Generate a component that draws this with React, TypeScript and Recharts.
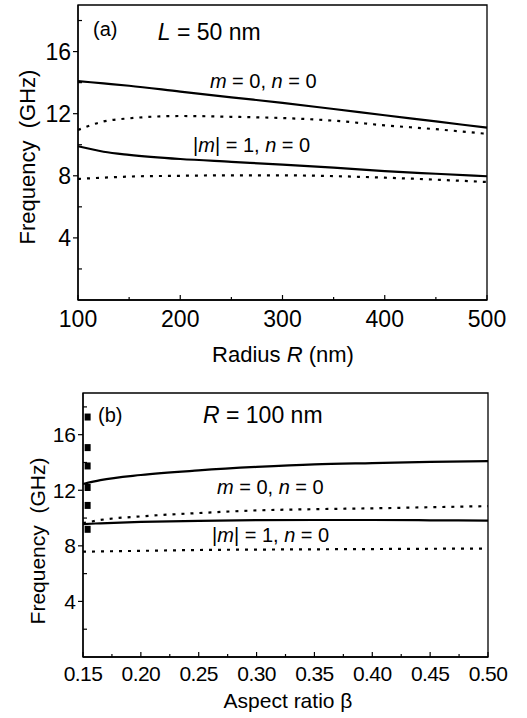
import React from 'react';
import {
  LineChart,
  ComposedChart,
  Line,
  Scatter,
  XAxis,
  YAxis,
  ReferenceArea,
  ReferenceDot,
  Label,
} from 'recharts';

// panel (a): L = 50 nm, frequency vs radius R (nm)
const radiusA = [100, 125, 150, 200, 250, 300, 350, 400, 450, 500];
const m0SolidA = [14.1, 13.95, 13.8, 13.42, 13.05, 12.7, 12.3, 11.9, 11.5, 11.1];
const m0DotA = [10.95, 11.5, 11.7, 11.85, 11.8, 11.72, 11.55, 11.25, 11.0, 10.7];
const m1SolidA = [9.9, 9.55, 9.35, 9.08, 8.9, 8.72, 8.52, 8.3, 8.13, 7.97];
const m1DotA = [7.8, 7.88, 7.95, 8.0, 8.03, 8.03, 7.98, 7.88, 7.75, 7.6];

// panel (b): R = 100 nm, frequency vs aspect ratio
const betaB = [0.15, 0.165, 0.2, 0.25, 0.3, 0.35, 0.4, 0.45, 0.5];
const m0SolidB = [12.45, 12.73, 13.1, 13.43, 13.68, 13.87, 13.96, 14.04, 14.09];
const m0DotB = [9.63, 9.86, 10.12, 10.36, 10.55, 10.64, 10.7, 10.78, 10.86];
const m1SolidB = [9.57, 9.62, 9.72, 9.8, 9.85, 9.86, 9.86, 9.84, 9.82];
const m1DotB = [7.58, 7.6, 7.64, 7.7, 7.73, 7.75, 7.77, 7.79, 7.8];
const squareBeta = [0.154, 0.154, 0.154, 0.154, 0.154, 0.154];
const squareFreq = [17.27, 15.07, 13.75, 12.2, 10.91, 9.19];

const freqTicks = [0, 2, 4, 6, 8, 10, 12, 14, 16, 18];
const radiusTicks = [100, 150, 200, 250, 300, 350, 400, 450, 500];
const betaTicks = [0.15, 0.175, 0.2, 0.225, 0.25, 0.275, 0.3, 0.325, 0.35, 0.375, 0.4, 0.425, 0.45, 0.475, 0.5];

const rowsA = radiusA.map((r, i) => ({ x: r, s0: m0SolidA[i], d0: m0DotA[i], s1: m1SolidA[i], d1: m1DotA[i] }));
const rowsB = betaB.map((b, i) => ({ x: b, s0: m0SolidB[i], d0: m0DotB[i], s1: m1SolidB[i], d1: m1DotB[i] }));
const squares = squareBeta.map((b, i) => ({ x: b, y: squareFreq[i] }));

const FONT = '"Liberation Sans", Arial, Helvetica, sans-serif';

type Part = [string, boolean];

const note = (parts: Part[], size: number) => (p: any) => (
  <text x={p.cx} y={p.cy} dy="0.36em" fontSize={size} fontFamily={FONT} fill="#000" style={{ whiteSpace: 'pre' }}>
    {parts.map(([t, it], i) => (
      <tspan key={i} fontStyle={it ? 'italic' : 'normal'}>
        {t}
      </tspan>
    ))}
  </text>
);

const m0Label: Part[] = [['m', true], [' = 0, ', false], ['n', true], [' = 0', false]];
const m1Label: Part[] = [['|', false], ['m', true], ['| = 1, ', false], ['n', true], [' = 0', false]];

const bottomTick = (isMajor: (v: number) => boolean, fmt: (v: number) => string, size: number, gap: number, spacing = 0) =>
  (p: any) => {
    const v = p.payload.value;
    const major = isMajor(v);
    return (
      <g>
        <line x1={p.x} x2={p.x} y1={p.y} y2={p.y - (major ? 5 : 3)} stroke="#000" strokeWidth={1.2} />
        {major && (
          <text x={p.x} y={p.y + gap} dy="0.36em" textAnchor="middle" fontSize={size} fontFamily={FONT} letterSpacing={spacing} fill="#000">
            {fmt(v)}
          </text>
        )}
      </g>
    );
  };

// major ticks point out of the frame, minor ones into it
const leftTick = (size: number) => (p: any) => {
  const v = p.payload.value;
  const major = v % 4 === 0;
  return (
    <g>
      {v > 0 && (
        <line x1={major ? p.x - 5 : p.x} x2={major ? p.x : p.x + 4} y1={p.y} y2={p.y} stroke="#000" strokeWidth={1.2} />
      )}
      {major && v > 0 && (
        <text x={p.x - 7} y={p.y} dy="0.36em" textAnchor="end" fontSize={size} fontFamily={FONT} fill="#000">
          {v}
        </text>
      )}
    </g>
  );
};

const yTitle = (cx: number, cy: number, size: number) => () => (
  <text x={cx} y={cy} textAnchor="middle" dy="0.36em" fontSize={size} fontFamily={FONT} fill="#000" transform={`rotate(-90 ${cx} ${cy})`} style={{ whiteSpace: 'pre' }}>
    Frequency  (GHz)
  </text>
);

export default function App() {
  return (
    <div style={{ position: 'absolute', left: 0, top: 0, width: 527, height: 718, background: '#fff' }}>
      <LineChart width={527} height={368} data={rowsA} margin={{ top: 5, right: 40, bottom: 0, left: 0 }}>
        <XAxis
          dataKey="x"
          type="number"
          domain={[100, 500]}
          ticks={radiusTicks}
          interval={0}
          height={68}
          tickSize={0}
          tickMargin={0}
          axisLine={{ stroke: '#000', strokeWidth: 1.3 }}
          tickLine={false}
          tick={bottomTick((v) => v % 100 === 0, (v) => String(v), 23, 18.5)}
        >
          <Label
            content={() => (
              <text x={283} y={354} dy="0.36em" textAnchor="middle" fontSize={22} fontFamily={FONT} fill="#000" style={{ whiteSpace: 'pre' }}>
                <tspan>Radius </tspan>
                <tspan fontStyle="italic">R</tspan>
                <tspan> (nm)</tspan>
              </text>
            )}
          />
        </XAxis>
        <YAxis
          type="number"
          domain={[0, 19]}
          ticks={freqTicks}
          interval={0}
          width={78}
          tickSize={0}
          tickMargin={0}
          allowDataOverflow
          axisLine={{ stroke: '#000', strokeWidth: 1.3 }}
          tickLine={false}
          tick={leftTick(23)}
        >
          <Label content={yTitle(27, 157, 22)} />
        </YAxis>
        <ReferenceArea x1={100} x2={500} y1={0} y2={19} fill="none" stroke="#000" strokeWidth={1.3} />
        <Line dataKey="s0" type="monotone" stroke="#000" strokeWidth={2.2} dot={false} isAnimationActive={false} />
        <Line dataKey="d0" type="monotone" stroke="#000" strokeWidth={2.2} strokeDasharray="3 6" dot={false} isAnimationActive={false} />
        <Line dataKey="s1" type="monotone" stroke="#000" strokeWidth={2.2} dot={false} isAnimationActive={false} />
        <Line dataKey="d1" type="monotone" stroke="#000" strokeWidth={2.2} strokeDasharray="3 6" dot={false} isAnimationActive={false} />
        <ReferenceDot x={114.7} y={17.45} shape={note([['(a)', false]], 20)} />
        <ReferenceDot x={178} y={17.3} shape={note([['L', true], [' = 50 nm', false]], 23)} />
        <ReferenceDot x={229} y={14.1} shape={note(m0Label, 20)} />
        <ReferenceDot x={212.5} y={10.0} shape={note(m1Label, 20)} />
      </LineChart>

      <ComposedChart width={527} height={350} data={rowsB} margin={{ top: 25, right: 39, bottom: 0, left: 0 }}>
        <XAxis
          dataKey="x"
          type="number"
          domain={[0.15, 0.5]}
          ticks={betaTicks}
          interval={0}
          height={61}
          tickSize={0}
          tickMargin={0}
          axisLine={{ stroke: '#000', strokeWidth: 1.3 }}
          tickLine={false}
          tick={bottomTick((v) => Math.round(v * 1000) % 50 === 0, (v) => v.toFixed(2), 21, 16, -0.6)}
        >
          <Label
            content={() => (
              <text x={288} y={700 - 368} dy="0.36em" textAnchor="middle" fontSize={21} fontFamily={FONT} fill="#000">
                Aspect ratio β
              </text>
            )}
          />
        </XAxis>
        <YAxis
          type="number"
          domain={[0, 19]}
          ticks={freqTicks}
          interval={0}
          width={83}
          tickSize={0}
          tickMargin={0}
          allowDataOverflow
          axisLine={{ stroke: '#000', strokeWidth: 1.3 }}
          tickLine={false}
          tick={leftTick(21)}
        >
          <Label content={yTitle(37, 541 - 368, 21)} />
        </YAxis>
        <ReferenceArea x1={0.15} x2={0.5} y1={0} y2={19} fill="none" stroke="#000" strokeWidth={1.3} />
        <Line dataKey="s0" type="monotone" stroke="#000" strokeWidth={2.2} dot={false} isAnimationActive={false} />
        <Line dataKey="d0" type="monotone" stroke="#000" strokeWidth={2.2} strokeDasharray="3 6" dot={false} isAnimationActive={false} />
        <Line dataKey="s1" type="monotone" stroke="#000" strokeWidth={2.2} dot={false} isAnimationActive={false} />
        <Line dataKey="d1" type="monotone" stroke="#000" strokeWidth={2.2} strokeDasharray="3 6" dot={false} isAnimationActive={false} />
        <Scatter
          data={squares}
          dataKey="y"
          isAnimationActive={false}
          shape={(p: any) => <rect x={p.cx - 3} y={p.cy - 3.5} width={6} height={7} fill="#000" />}
        />
        <ReferenceDot x={0.163} y={17.42} shape={note([['(b)', false]], 20)} />
        <ReferenceDot x={0.2537} y={17.42} shape={note([['R', true], [' = 100 nm', false]], 23)} />
        <ReferenceDot x={0.2658} y={12.24} shape={note(m0Label, 20)} />
        <ReferenceDot x={0.2615} y={8.76} shape={note(m1Label, 20)} />
      </ComposedChart>
    </div>
  );
}
